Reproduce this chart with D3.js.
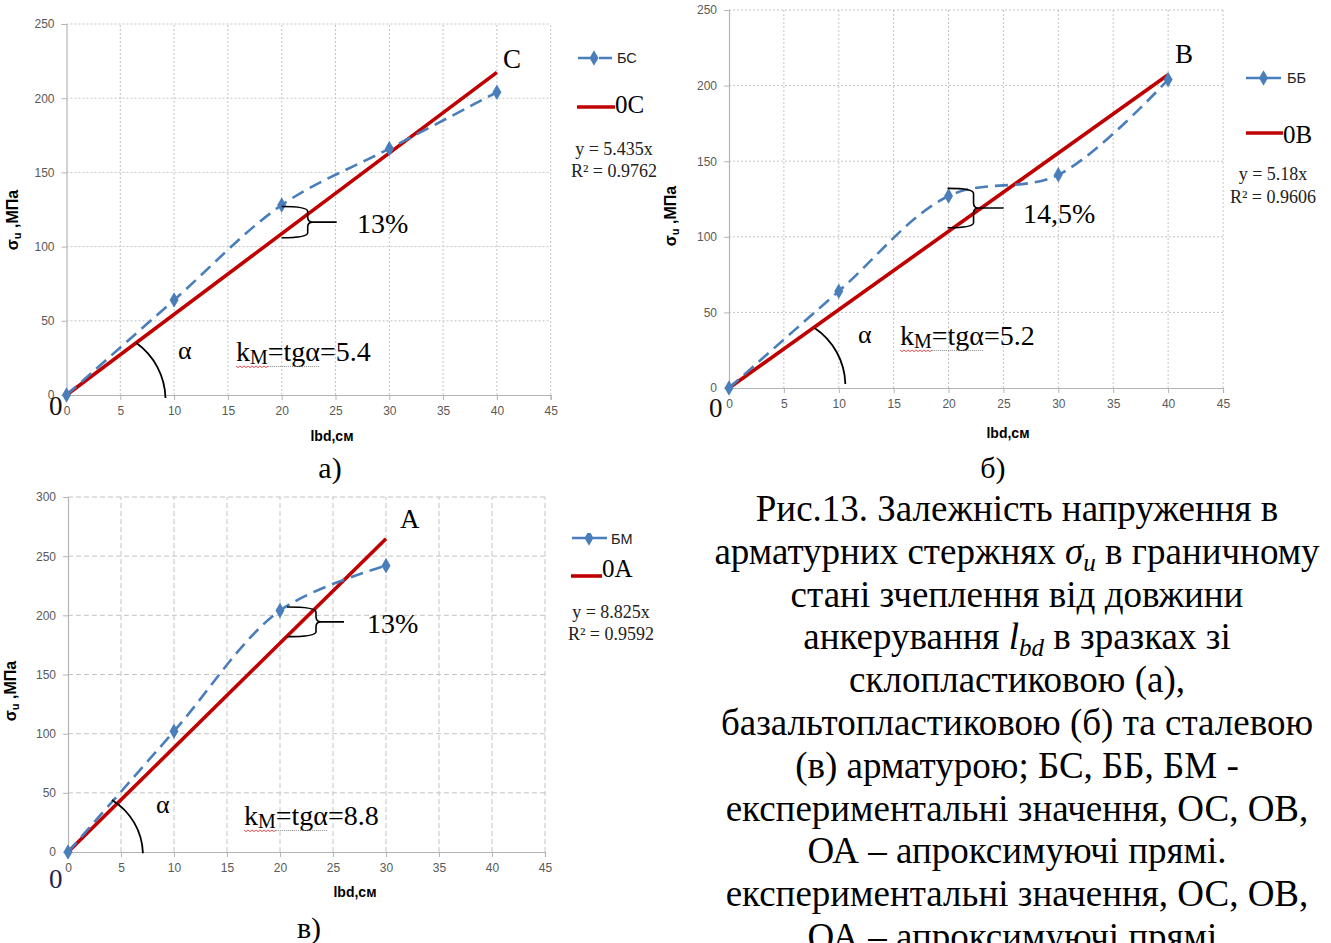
<!DOCTYPE html>
<html>
<head>
<meta charset="utf-8">
<script src="https://cdn.jsdelivr.net/npm/d3@7"></script>
<style>
  html, body { margin: 0; padding: 0; background: #fff; }
  svg { display: block; }
</style>
</head>
<body>
<svg id="fig" width="1331" height="943"></svg>
<script>
// ---- data -------------------------------------------------------------
const lengthTicks    = [0, 5, 10, 15, 20, 25, 30, 35, 40, 45];
const stressTicks250 = [0, 50, 100, 150, 200, 250];
const stressTicks300 = [0, 50, 100, 150, 200, 250, 300];

// anchorage length l_bd (cm) and bond stress sigma_u (MPa)
const lengthsGlass  = [0, 10, 20, 30, 40];
const stressGlass   = [0, 64, 128, 166, 204];   // БС
const lengthsBasalt = [0, 10, 20, 30, 40];
const stressBasalt  = [0, 64, 127, 141, 204];   // ББ
const lengthsSteel  = [0, 10, 20, 30];
const stressSteel   = [0, 102, 204, 242];       // БМ

// linear trend lines through the origin
const fitSlopes = [5.435, 5.18, 8.825];
const fitR2     = ["0.9762", "0.9606", "0.9592"];
const fitEquations = ["y = 5.435x", "y = 5.18x", "y = 8.825x"];

const seriesNames  = ["БС", "ББ", "БМ"];
const fitNames     = ["0C", "0B", "0A"];
const endLabels    = ["C", "B", "A"];
const gapLabels    = ["13%", "14,5%", "13%"];
const kmValues     = ["5.4", "5.2", "8.8"];
const panelLetters = ["а)", "б)", "в)"];
// brace between the measured point and the trend line at l_bd = 20
const braceTop    = [127, 132, 207];
const braceBottom = [106, 106, 182];

const captionLines = [
  [["Рис.13. Залежність напруження в"]],
  [["арматурних стержнях "], ["σ", "i"], ["u", "isub"], [" в граничному"]],
  [["стані зчеплення від довжини"]],
  [["анкерування "], ["l", "i"], ["bd", "isub"], [" в зразках зі"]],
  [["склопластиковою (а),"]],
  [["базальтопластиковою (б) та сталевою"]],
  [["(в) арматурою; БС, ББ, БМ -"]],
  [["експериментальні значення, ОС, ОВ,"]],
  [["ОА – апроксимуючі прямі."]],
  [["експериментальні значення, ОС, ОВ,"]],
  [["ОА – апроксимуючі прямі."]]
];

// ---- panel layout -----------------------------------------------------
const panels = [
  { xs: lengthsGlass, ys: stressGlass, yTicks: stressTicks250, fitEnd: 40,
    left: 66.5, right: 550.7, top: 24, bottom: 395, gridDash: "2,2",
    end: [503, 68], gap: [357, 233], alpha: [178, 359], km: [236, 361],
    origin: [49, 415], originColor: "#111", letter: [330, 478],
    yTitle: [18, 220], xTitle: [332, 441],
    legS: [578, 612, 58, 617, 63], legF: [577, 615, 107, 615, 113], eq: [614, 155, 177],
    brace: [0, 26, 55], arc: [[6.5, 35], [9.2, -2], 70] },
  { xs: lengthsBasalt, ys: stressBasalt, yTicks: stressTicks250, fitEnd: 40,
    left: 729, right: 1223, top: 10, bottom: 388, gridDash: "2,2",
    end: [1175, 63], gap: [1023, 223], alpha: [858, 343], km: [900, 345],
    origin: [709, 417], originColor: "#111", letter: [993, 478],
    yTitle: [676, 216], xTitle: [1008, 438],
    legS: [1246, 1283, 78, 1287, 83], legF: [1246, 1283, 133, 1283, 143], eq: [1273, 180, 203],
    brace: [-1, 25, 55], arc: [[7.8, 39.7], [10.6, 2.6], 70] },
  { xs: lengthsSteel, ys: stressSteel, yTicks: stressTicks300, fitEnd: 30,
    left: 68, right: 545, top: 497, bottom: 852, gridDash: "5,3",
    end: [400, 528], gap: [367, 633], alpha: [156, 813], km: [244, 825],
    origin: [49, 888], originColor: "#1c2450", letter: [309, 938],
    yTitle: [16, 691], xTitle: [355, 897],
    legS: [572, 608, 538, 611, 544], legF: [571, 602, 576, 602, 577], eq: [611, 618, 640],
    brace: [7, 36, 64], arc: [[4.15, 44], [7.07, -1], 65], clipLegendTop: 533 }
];

const BLUE = "#4a7ebb", RED = "#c00000", GRID = "#c4c4c4", AXIS = "#b4b4b4", TICKTXT = "#595959";
const SERIF = "'Liberation Serif', 'Times New Roman', serif";
const SANS  = "'Liberation Sans', Arial, sans-serif";

const svg = d3.select("#fig");
const defs = svg.append("defs");

panels.forEach((p, i) => {
  const x = d3.scaleLinear().domain([0, 45]).range([p.left, p.right]);
  const yMax = d3.max(p.yTicks);
  const y = d3.scaleLinear().domain([0, yMax]).range([p.bottom, p.top]);
  const g = svg.append("g").attr("class", "panel-" + i);

  // grid
  g.append("g").selectAll("line.v").data(lengthTicks.filter(t => t > 0)).join("line")
    .attr("x1", d => x(d)).attr("x2", d => x(d)).attr("y1", p.bottom).attr("y2", p.top)
    .attr("stroke", GRID).attr("stroke-dasharray", p.gridDash).attr("stroke-width", 1);
  g.append("g").selectAll("line.h").data(p.yTicks.filter(t => t > 0)).join("line")
    .attr("x1", p.left).attr("x2", p.right).attr("y1", d => y(d)).attr("y2", d => y(d))
    .attr("stroke", GRID).attr("stroke-dasharray", p.gridDash).attr("stroke-width", 1);

  // axes
  const xAxis = d3.axisBottom(x).tickValues(lengthTicks).tickSize(5).tickPadding(6);
  const yAxis = d3.axisLeft(y).tickValues(p.yTicks).tickSize(5).tickPadding(7);
  const gx = g.append("g").attr("transform", `translate(0,${p.bottom})`).call(xAxis);
  const gy = g.append("g").attr("transform", `translate(${p.left},0)`).call(yAxis);
  [gx, gy].forEach(a => {
    a.select(".domain").attr("stroke", AXIS).attr("stroke-width", 1.2);
    a.selectAll(".tick line").attr("stroke", AXIS);
    a.selectAll(".tick text").attr("fill", TICKTXT)
      .style("font-family", SANS).style("font-size", "12px");
  });

  // trend line
  const fitX = [0, p.fitEnd];
  g.append("path")
    .attr("d", d3.line().x(d => x(d)).y(d => y(fitSlopes[i] * d))(fitX))
    .attr("fill", "none").attr("stroke", RED).attr("stroke-width", 3.6);

  // measured series, smoothed dashed line
  const pts = p.xs.map((d, k) => [d, p.ys[k]]);
  g.append("path")
    .attr("d", d3.line().x(d => x(d[0])).y(d => y(d[1])).curve(d3.curveCatmullRom.alpha(0.5))(pts))
    .attr("fill", "none").attr("stroke", BLUE).attr("stroke-width", 2.6)
    .attr("stroke-dasharray", "13,7");
  const diamond = d3.symbol().type(d3.symbolDiamond).size(70);
  g.append("g").selectAll("path").data(pts).join("path")
    .attr("d", diamond)
    .attr("transform", d => `translate(${x(d[0])},${y(d[1])})`)
    .attr("fill", BLUE);

  // brace between point and trend line at l_bd = 20
  const bx0 = x(20) + p.brace[0], bx1 = x(20) + p.brace[1], bxt = x(20) + p.brace[2];
  const yT = y(braceTop[i]), yB = y(braceBottom[i]), ym = (yT + yB) / 2, r = 5;
  g.append("path")
    .attr("d", `M${bx0},${yT} Q${bx1},${yT} ${bx1},${yT + r} L${bx1},${ym - r} Q${bx1},${ym} ${bx1 + r},${ym} L${bxt},${ym}` +
               ` M${bx1 + r},${ym} Q${bx1},${ym} ${bx1},${ym + r} L${bx1},${yB - r} Q${bx1},${yB} ${bx0},${yB}`)
    .attr("fill", "none").attr("stroke", "#000").attr("stroke-width", 1.6);

  // angle arc
  const [as, ae, ar] = p.arc;
  g.append("path")
    .attr("d", `M${x(as[0])},${y(as[1])} A${ar},${ar} 0 0 1 ${x(ae[0])},${y(ae[1])}`)
    .attr("fill", "none").attr("stroke", "#000").attr("stroke-width", 1.8);

  // annotation text
  const serif = (tx, ty, s, size, color) => g.append("text")
    .attr("x", tx).attr("y", ty).text(s)
    .style("font-family", SERIF).style("font-size", size + "px").attr("fill", color || "#000");
  serif(p.end[0], p.end[1], endLabels[i], 27);
  serif(p.gap[0], p.gap[1], gapLabels[i], 28);
  serif(p.alpha[0], p.alpha[1], "α", 26);
  serif(p.origin[0], p.origin[1], "0", 27, p.originColor);
  serif(p.letter[0], p.letter[1], panelLetters[i], 30).attr("text-anchor", "middle");

  // k_M = tg α = value
  const k = serif(p.km[0], p.km[1], "k", 28);
  const kw = k.node().getComputedTextLength();
  const m = serif(p.km[0] + kw, p.km[1] + 3, "M", 20);
  const mw = m.node().getComputedTextLength();
  const rest = serif(p.km[0] + kw + mw, p.km[1], "=tgα=" + kmValues[i], 28);
  const tgw = rest.node().getSubStringLength(0, 4);
  // spell-check underlines
  let wave = `M${p.km[0]},${p.km[1] + 5}`;
  for (let xx = p.km[0], s = 0; xx < p.km[0] + kw + mw; xx += 2, s++) {
    wave += ` L${xx + 2},${p.km[1] + 5 + (s % 2 ? 0 : 1.6)}`;
  }
  g.append("path").attr("d", wave).attr("fill", "none").attr("stroke", "#e23a3a").attr("stroke-width", 0.9);
  g.append("line")
    .attr("x1", p.km[0] + kw + mw).attr("x2", p.km[0] + kw + mw + tgw)
    .attr("y1", p.km[1] + 5.5).attr("y2", p.km[1] + 5.5)
    .attr("stroke", "#8a8a8a").attr("stroke-width", 1).attr("stroke-dasharray", "1,1");

  // axis titles
  const yt = g.append("text")
    .attr("transform", `translate(${p.yTitle[0]},${p.yTitle[1]}) rotate(-90)`)
    .attr("text-anchor", "middle")
    .style("font-family", SANS).style("font-size", "16px").style("font-weight", "bold").attr("fill", "#000");
  yt.append("tspan").text("σ");
  yt.append("tspan").text("u").style("font-size", "11px").attr("dy", 3);
  yt.append("tspan").text(" ,МПа").attr("dy", -3);
  g.append("text").attr("x", p.xTitle[0]).attr("y", p.xTitle[1]).attr("text-anchor", "middle")
    .style("font-family", SANS).style("font-size", "14px").style("font-weight", "bold")
    .attr("fill", "#000").text("lbd,см");

  // legend
  const [sx0, sx1, sy, stx, sty] = p.legS;
  const leg = g.append("g");
  if (p.clipLegendTop) {
    defs.append("clipPath").attr("id", "legclip" + i).append("rect")
      .attr("x", sx0 - 10).attr("y", p.clipLegendTop).attr("width", 120).attr("height", 60);
    leg.attr("clip-path", `url(#legclip${i})`);
  }
  leg.append("line").attr("x1", sx0).attr("x2", sx1).attr("y1", sy).attr("y2", sy)
    .attr("stroke", BLUE).attr("stroke-width", 2.6).attr("stroke-dasharray", "14,7");
  leg.append("path").attr("d", diamond).attr("transform", `translate(${(sx0 + sx1) / 2 - 1},${sy})`).attr("fill", BLUE);
  leg.append("text").attr("x", stx).attr("y", sty).text(seriesNames[i])
    .style("font-family", SANS).style("font-size", "14.5px").attr("fill", "#222");

  const [fx0, fx1, fy, ftx, fty] = p.legF;
  g.append("line").attr("x1", fx0).attr("x2", fx1).attr("y1", fy).attr("y2", fy)
    .attr("stroke", RED).attr("stroke-width", 3.6);
  serif(ftx, fty, fitNames[i], 25);

  const [ex, ey1, ey2] = p.eq;
  serif(ex, ey1, fitEquations[i], 18, "#222").attr("text-anchor", "middle");
  serif(ex, ey2, "R² = " + fitR2[i], 18, "#222").attr("text-anchor", "middle");
});

// ---- caption ----------------------------------------------------------
const cap = svg.append("g");
const capBase = 521, capStep = 42.8, capX = 1017;
captionLines.forEach((parts, li) => {
  const t = cap.append("text")
    .attr("x", capX).attr("y", capBase + li * capStep).attr("text-anchor", "middle")
    .style("font-family", SERIF).style("font-size", "37px").attr("fill", "#000");
  parts.forEach(([s, st]) => {
    const ts = t.append("tspan").text(s);
    if (st === "i") ts.style("font-style", "italic");
    if (st === "isub") ts.style("font-style", "italic").style("font-size", "25px").attr("dy", 7);
    else if (parts.some(q => q[1] === "isub") && s.startsWith(" ")) ts.attr("dy", -7);
  });
});
</script>
</body>
</html>
